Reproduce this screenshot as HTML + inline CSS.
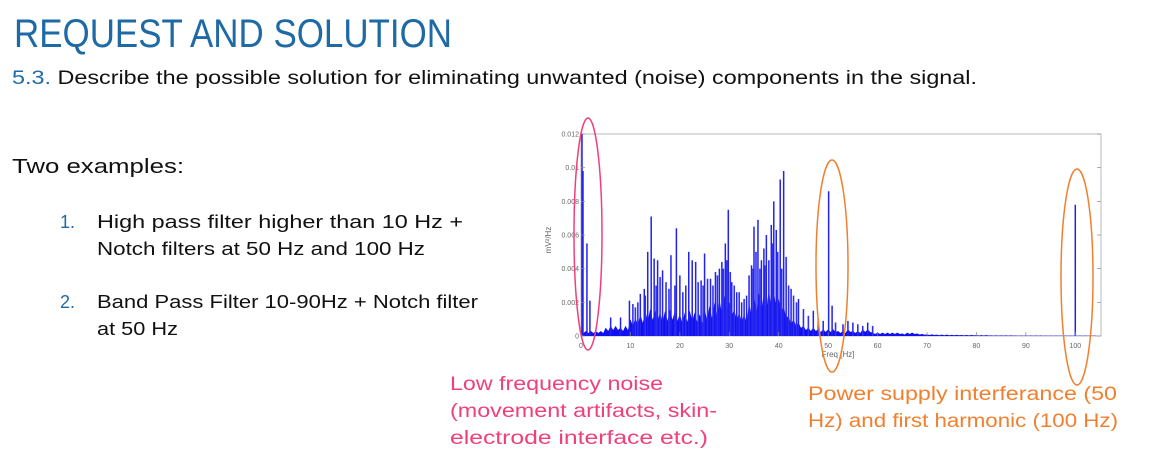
<!DOCTYPE html>
<html><head><meta charset="utf-8"><style>
html,body{margin:0;padding:0;background:#fff;width:1160px;height:460px;overflow:hidden}
svg{display:block;font-family:"Liberation Sans",sans-serif}
</style></head><body>
<svg id="slide" width="1160" height="460" viewBox="0 0 1160 460">
<text x="14" y="47" font-size="40" fill="#1d6aa5" textLength="438" lengthAdjust="spacingAndGlyphs">REQUEST AND SOLUTION</text>
<text x="12" y="84" font-size="19" fill="#111" textLength="965" lengthAdjust="spacingAndGlyphs"><tspan fill="#1d6aa5">5.3.</tspan> Describe the possible solution for eliminating unwanted (noise) components in the signal.</text>
<text x="12" y="173" font-size="20" fill="#111" textLength="172" lengthAdjust="spacingAndGlyphs">Two examples:</text>
<g font-size="18" fill="#111">
<text x="60" y="228" fill="#1d6aa5">1.</text>
<text x="97" y="228" textLength="366" lengthAdjust="spacingAndGlyphs">High pass filter higher than 10 Hz +</text>
<text x="97" y="255" textLength="328" lengthAdjust="spacingAndGlyphs">Notch filters at 50 Hz and 100 Hz</text>
<text x="60" y="308" fill="#1d6aa5">2.</text>
<text x="97" y="308" textLength="381" lengthAdjust="spacingAndGlyphs">Band Pass Filter 10-90Hz + Notch filter</text>
<text x="97" y="335" textLength="81" lengthAdjust="spacingAndGlyphs">at 50 Hz</text>
</g>
<g font-size="19" fill="#f0407a">
<text x="450" y="390" textLength="213" lengthAdjust="spacingAndGlyphs">Low frequency noise</text>
<text x="450" y="417" textLength="267" lengthAdjust="spacingAndGlyphs">(movement artifacts, skin-</text>
<text x="450" y="444" textLength="258" lengthAdjust="spacingAndGlyphs">electrode interface etc.)</text>
</g>
<g font-size="19" fill="#f08030">
<text x="808" y="400" textLength="309" lengthAdjust="spacingAndGlyphs">Power supply interferance (50</text>
<text x="808" y="427" textLength="310" lengthAdjust="spacingAndGlyphs">Hz) and first harmonic (100 Hz)</text>
</g>
<g id="chart"></g>
<ellipse cx="588" cy="234" rx="14" ry="116" fill="none" stroke="#f0407a" stroke-width="1.5"/>
<ellipse cx="832" cy="266" rx="16" ry="106" fill="none" stroke="#f08030" stroke-width="1.5"/>
<ellipse cx="1077" cy="277" rx="16" ry="108" fill="none" stroke="#f08030" stroke-width="1.5"/>
</svg>
<script>
const xTicks=[0,10,20,30,40,50,60,70,80,90,100];
const yTicks=[0,0.002,0.004,0.006,0.008,0.01,0.012];
const yTickLabels=["0","0.002","0.004","0.006","0.008","0.01","0.012"];
// noise floor, one value per Hz from 0 to 104
const floorVals=[0.0003,0.0003,0.0003,0.0003,0.0003,0.0005,0.0006,0.0006,0.0005,0.0006,0.0010,0.0011,0.0013,0.0015,0.0016,0.0015,0.0014,0.0015,0.0016,0.0015,0.0013,0.0014,0.0015,0.0014,0.0013,0.0016,0.0018,0.0020,0.0022,0.0024,0.0020,0.0016,0.0014,0.0013,0.0020,0.0024,0.0026,0.0025,0.0028,0.0027,0.0022,0.0018,0.0012,0.0010,0.0008,0.0006,0.0005,0.0005,0.0004,0.0004,0.0004,0.0004,0.0003,0.0003,0.0004,0.0003,0.0003,0.0004,0.0004,0.0002,0.0002,0.0002,0.0002,0.0002,0.0002,0.00015,0.0002,0.0002,0.00015,0.00012,0.0001,0.0001,0.00008,0.00008,0.00008,0.00007,0.00007,0.00006,0.00006,0.00006,0.00005,0.00005,0.00005,0.00004,0.00004,0.00004,0.00004,0.00004,0.00003,0.00003,0.00003,0.00003,0.00003,0.00003,0.00002,0.00002,0.00002,0.00002,0.00002,0.00002,0.00002,0.00002,0.00002,0.00002,0.00002];
const peakFreqs=[0.2,0.4,1.2,1.8,6,8,9.8,10.5,12,12.8,13.5,14.2,14.8,15.5,16.5,17.2,18.2,19.3,20,21.8,22.5,23.2,24.3,25,26.2,27.2,28,28.5,29.2,29.8,30.5,31.5,32.5,33.5,34.5,35,35.8,36.5,37,37.5,38.5,39,39.5,40.3,41,41.5,42.5,44,47,50.1,50.8,54,58,100];
const peakVals=[0.012,0.0098,0.0055,0.0021,0.0011,0.0011,0.0021,0.0019,0.0025,0.0028,0.005,0.0071,0.0046,0.0045,0.0039,0.0032,0.0048,0.0064,0.0036,0.005,0.0045,0.0044,0.0033,0.0049,0.0034,0.0038,0.0040,0.0044,0.0055,0.0075,0.0032,0.0026,0.0020,0.0024,0.0042,0.0065,0.0069,0.0045,0.0052,0.0060,0.0066,0.0080,0.0063,0.0093,0.0098,0.0047,0.0028,0.0022,0.0015,0.0086,0.0018,0.0009,0.0008,0.0078];
// secondary peaks that fill the dense mass
const minorFreqs=[11,11.5,13,15.2,16,17.8,19,20.6,21.2,23.7,24.7,25.6,26.7,27.6,28.8,29.5,30.2,31,32,33,34,34.8,35.4,36.2,37.2,38,38.8,39.8,40.6,42,43,43.6,45,46,48,49,51.5,53,55,56,57,59];
const minorVals=[0.0017,0.0020,0.0024,0.0030,0.0035,0.0028,0.0030,0.0026,0.0030,0.0032,0.0030,0.0034,0.0030,0.0036,0.0040,0.0045,0.0038,0.0030,0.0026,0.0022,0.0036,0.0040,0.0050,0.0040,0.0042,0.0045,0.0055,0.0050,0.0040,0.0030,0.0024,0.0020,0.0016,0.0012,0.0010,0.0009,0.0008,0.0007,0.0008,0.0007,0.0006,0.0006];
const NS="http://www.w3.org/2000/svg";
const g=document.getElementById('chart');
const X0=581,X1=1101,Y0=336,Y1=134,FMAX=105.2,VMAX=0.012;
const xs=f=>X0+(f/FMAX)*(X1-X0);
const ys=v=>Y0-(v/VMAX)*(Y0-Y1);
function mk(t,a){const e=document.createElementNS(NS,t);for(const k in a)e.setAttribute(k,a[k]);g.appendChild(e);return e;}
let e=mk('rect',{x:X0,y:Y1,width:X1-X0,height:Y0-Y1,fill:'#fff',stroke:'#aaa','stroke-width':0.8});


let d='M'+xs(0)+','+ys(0);
floorVals.forEach((v,i)=>{d+=' L'+xs(i)+','+ys(v)+' L'+xs(i+0.5)+','+ys(v*0.6);});
d+=' L'+xs(floorVals.length-1)+','+ys(0)+'Z';
e=mk('path',{d:d,fill:'#1010f0'});


minorFreqs.forEach((f,i)=>{
  const l=mk('line',{x1:xs(f),x2:xs(f),y1:ys(0),y2:ys(minorVals[i]),stroke:'#3030f0','stroke-width':1.6});
  
  
});
peakFreqs.forEach((f,i)=>{
  const l=mk('line',{x1:xs(f),x2:xs(f),y1:ys(0),y2:ys(peakVals[i]),stroke:'#2222ee','stroke-width':1.5});
  
  
});
xTicks.forEach(t=>{
  const tk=mk('line',{x1:xs(t),x2:xs(t),y1:Y0,y2:Y0-4,stroke:'#888','stroke-width':0.7});
  
  
  const tx=mk('text',{x:xs(t),y:Y0+12,'font-size':7,fill:'#666','text-anchor':'middle'});
  tx.textContent=t;
  
  
});
yTicks.forEach((t,i)=>{
  const tk=mk('line',{x1:X0,x2:X0+4,y1:ys(t),y2:ys(t),stroke:'#888','stroke-width':0.7});
  
  
  const tk2=mk('line',{x1:X1,x2:X1-4,y1:ys(t),y2:ys(t),stroke:'#888','stroke-width':0.7});
  
  
  const tx=mk('text',{x:X0-2,y:ys(t)+2.5,'font-size':7,fill:'#666','text-anchor':'end'});
  tx.textContent=yTickLabels[i];
  
  
});
e=mk('text',{x:838,y:357,'font-size':8,fill:'#666','text-anchor':'middle'});
e.textContent='Freq [Hz]';


e=mk('text',{x:551,y:240,'font-size':8,fill:'#666','text-anchor':'middle',transform:'rotate(-90 551 240)'});
e.textContent='mV²/Hz';


</script>
</body></html>
